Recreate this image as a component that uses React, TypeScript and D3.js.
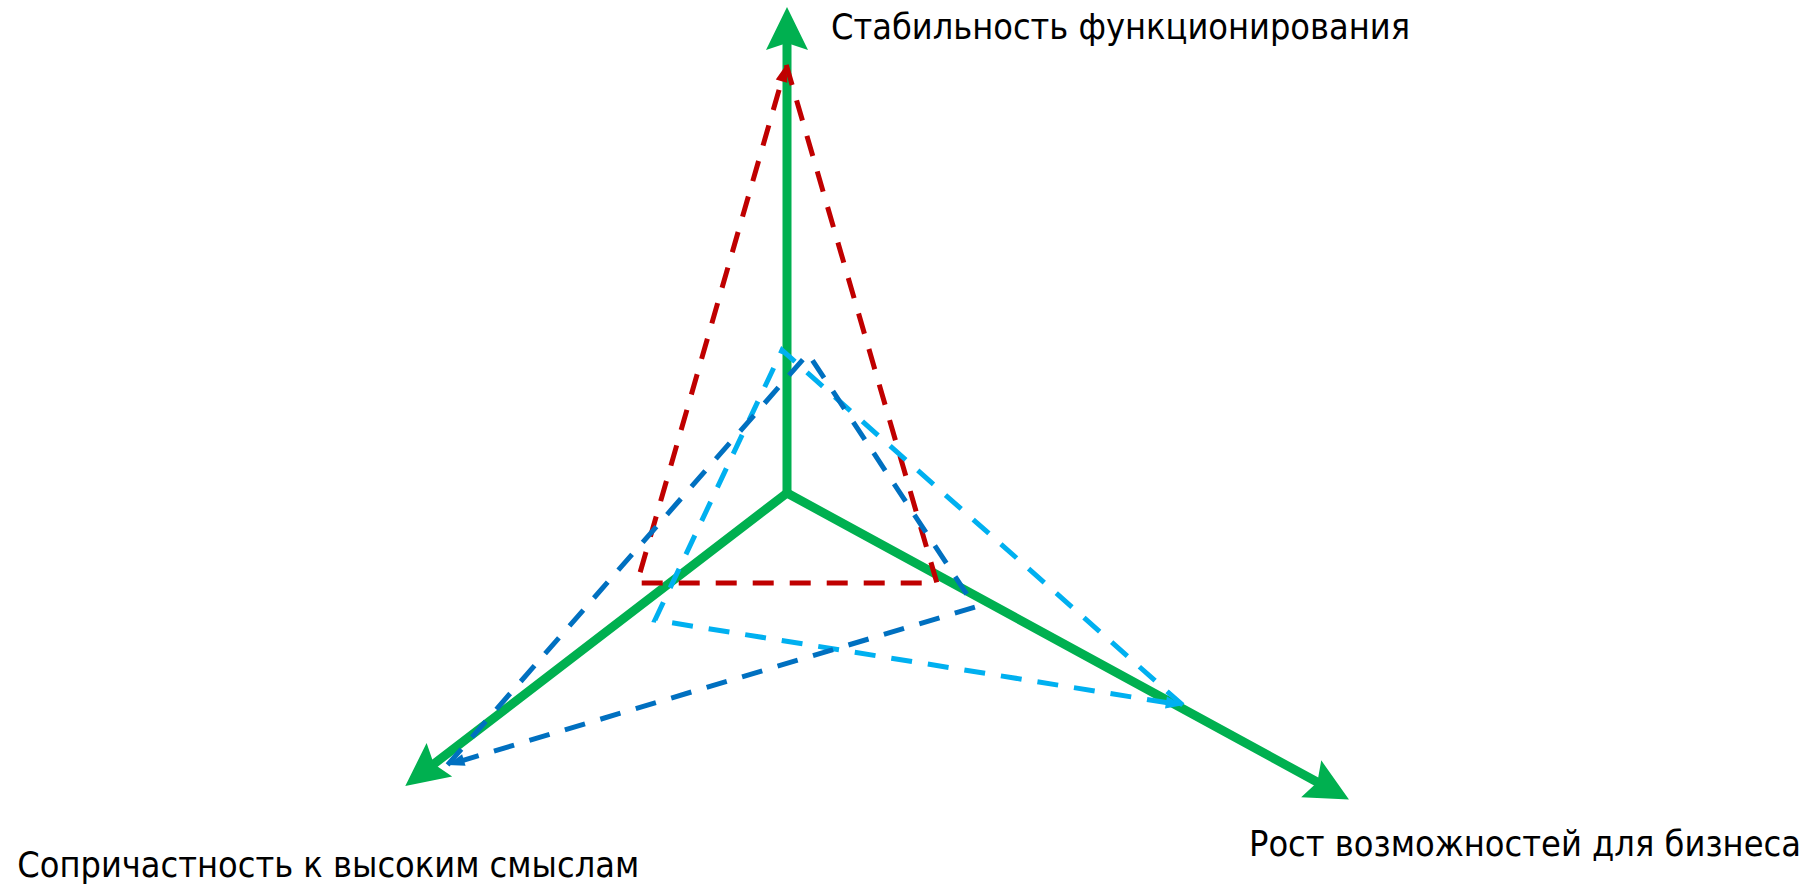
import React from "react";
import * as d3 from "d3";

// ---- data ----
const axisNames = [
  "Стабильность функционирования",
  "Рост возможностей для бизнеса",
  "Сопричастность к высоким смыслам",
];
const axisAngles = [90, -28.6, 217.5]; // degrees, counter-clockwise from east
const axisLengths = [10, 13.17, 9.9]; // in value units

const seriesNames = ["red", "lightBlue", "darkBlue"];
const redAngles = [90.1, -31.0, 211.0, 90.1];
const redValues = [8.81, 3.6, 3.6, 8.81];
const lightBlueAngles = [-28.2, 92.0, 223.9, -28.2];
const lightBlueValues = [9.24, 2.94, 3.77, 9.24];
const darkBlueAngles = [218.7, 81.4, -31.2, 218.7];
const darkBlueValues = [8.95, 2.9, 4.53, 8.95];

const seriesColors = ["#C00000", "#00B0F0", "#0070C0"];

// ---- layout ----
const W = 1818;
const H = 887;
const CX = 787;
const CY = 493;
const GREEN = "#00B050";
const labelLayout = [
  { dx: 44, dy: 32, len: 579 },
  { dx: -100, dy: 57, len: 552 },
  { dx: -388, dy: 91, len: 622 },
];

const rScale = d3.scaleLinear().domain([0, 10]).range([0, 486]);

function pt(angleDeg: number, v: number): [number, number] {
  const a = (angleDeg * Math.PI) / 180;
  const r = rScale(v);
  return [CX + r * Math.cos(a), CY - r * Math.sin(a)];
}

function arrowHead(tip: [number, number], from: [number, number], len: number, half: number, notch: number) {
  const dx = tip[0] - from[0];
  const dy = tip[1] - from[1];
  const L = Math.hypot(dx, dy);
  const ux = dx / L, uy = dy / L;
  const px = -uy, py = ux;
  const b: [number, number] = [tip[0] - ux * len, tip[1] - uy * len];
  const n: [number, number] = [tip[0] - ux * (len - notch), tip[1] - uy * (len - notch)];
  const pts: [number, number][] = [
    tip,
    [b[0] + px * half, b[1] + py * half],
    n,
    [b[0] - px * half, b[1] - py * half],
  ];
  return d3.line()(pts) + "Z";
}

function shorten(p: [number, number], from: [number, number], by: number): [number, number] {
  const dx = p[0] - from[0];
  const dy = p[1] - from[1];
  const L = Math.hypot(dx, dy);
  return [p[0] - (dx / L) * by, p[1] - (dy / L) * by];
}

export default function App() {
  const line = d3.line();
  const series = [
    { angles: redAngles, values: redValues },
    { angles: lightBlueAngles, values: lightBlueValues },
    { angles: darkBlueAngles, values: darkBlueValues },
  ];
  const tips = axisAngles.map((a, i) => pt(a, axisLengths[i]));
  return (
    <svg
      width={W}
      height={H}
      style={{ position: "absolute", left: 0, top: 0, display: "block", background: "#fff" }}
    >
      {/* axes */}
      {tips.map((tip, i) => {
        const end = shorten(tip, [CX, CY], 30);
        return (
          <g key={"ax" + i}>
            <line x1={CX} y1={CY} x2={end[0]} y2={end[1]} stroke={GREEN} strokeWidth={9} strokeLinecap="round" />
            <path d={arrowHead(tip, [CX, CY], 43, 21, 7)} fill={GREEN} />
          </g>
        );
      })}
      {/* series */}
      {series.map((s, i) => {
        const pts = s.angles.map((a, j) => pt(a, s.values[j]));
        const last = pts[pts.length - 1];
        const prev = pts[pts.length - 2];
        const drawn = pts.slice(0, -1).concat([shorten(last, prev, 12)]);
        return (
          <g key={seriesNames[i]}>
            <path
              d={line(drawn) || ""}
              fill="none"
              stroke={seriesColors[i]}
              strokeWidth={5}
              strokeDasharray="21 16"
              strokeLinejoin="miter"
            />
            <path d={arrowHead(last, prev, 17, 6, 0)} fill={seriesColors[i]} />
          </g>
        );
      })}
      {/* labels */}
      {tips.map((tip, i) => (
        <text
          key={"lb" + i}
          x={tip[0] + labelLayout[i].dx}
          y={tip[1] + labelLayout[i].dy}
          fontFamily="'DejaVu Sans Condensed', 'DejaVu Sans', sans-serif"
          fontSize={36}
          fill="#000"
          textLength={labelLayout[i].len}
          lengthAdjust="spacingAndGlyphs"
        >
          {axisNames[i]}
        </text>
      ))}
    </svg>
  );
}
